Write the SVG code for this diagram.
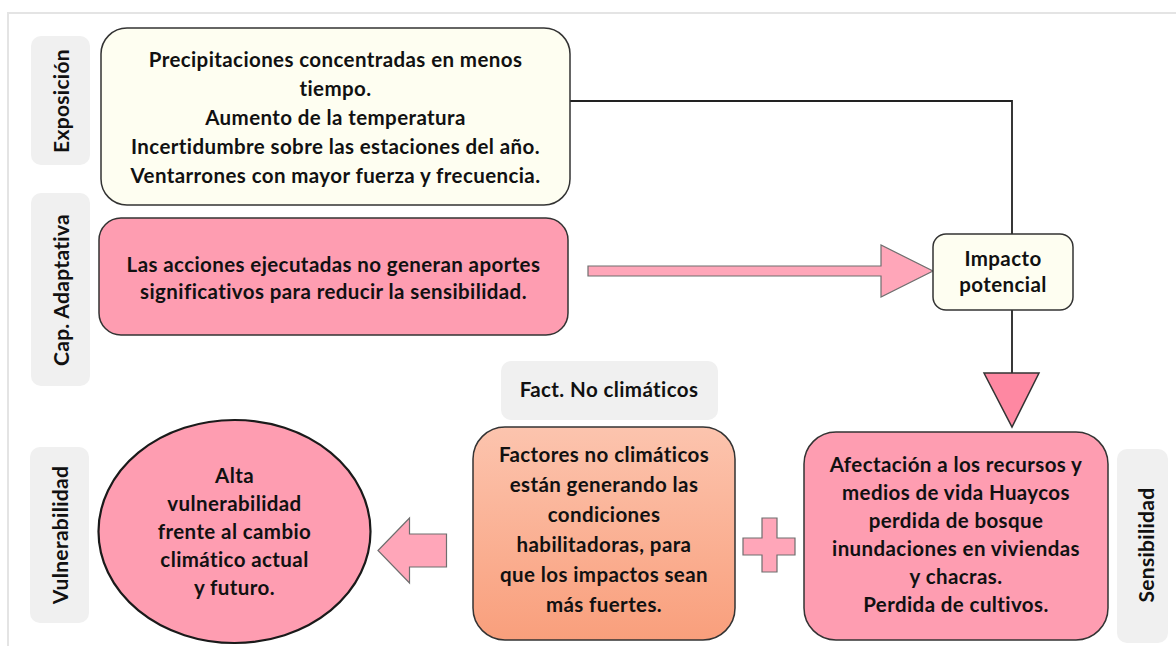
<svg xmlns="http://www.w3.org/2000/svg" width="1176" height="646" viewBox="0 0 1176 646">
<style>
  text { font-family: Lato, "Open Sans", "Liberation Sans", sans-serif; font-weight: bold; fill: #111; }
  .t { font-size: 20.5px; letter-spacing: 0.4px; text-anchor: middle; }
  .tab { fill: #f0f0f0; }
  .tabt { font-size: 21px; letter-spacing: 0.3px; text-anchor: middle; dominant-baseline: central; }
  .tabh { font-size: 20.5px; letter-spacing: 0.4px; text-anchor: middle; }
  .box { stroke: #333; stroke-width: 1.5; }
  .ivory { fill: #fefef1; }
  .pink { fill: #fe9db1; }
  .arrow { fill: #ffa6b9; stroke: #6e6e6e; stroke-width: 1.2; }
  .conn { fill: none; stroke: #222; stroke-width: 1.8; }
</style>
<defs>
  <linearGradient id="peach" x1="0" y1="0" x2="0" y2="1">
    <stop offset="0" stop-color="#fcc4ae"/>
    <stop offset="1" stop-color="#f99f7c"/>
  </linearGradient>
</defs>
<rect x="0" y="0" width="1176" height="646" fill="#ffffff"/>
<rect x="8" y="13" width="1200" height="700" fill="none" stroke="#e4e4e4" stroke-width="2"/>

<g id="tab-exposicion">
  <rect class="tab" x="31" y="36" width="59" height="129" rx="10"/>
  <text class="tabt" transform="translate(60,101) rotate(-90)">Exposición</text>
</g>
<g id="tab-cap">
  <rect class="tab" x="31" y="193" width="59" height="193" rx="10"/>
  <text class="tabt" transform="translate(60,290) rotate(-90)">Cap. Adaptativa</text>
</g>
<g id="tab-vulnerabilidad">
  <rect class="tab" x="30" y="447" width="59" height="176" rx="10"/>
  <text class="tabt" transform="translate(59,535) rotate(-90)">Vulnerabilidad</text>
</g>
<g id="tab-sensibilidad">
  <rect class="tab" x="1117" y="449" width="51" height="194" rx="10"/>
  <text class="tabt" transform="translate(1145,545) rotate(-90)">Sensibilidad</text>
</g>
<g id="tab-fact">
  <rect class="tab" x="501" y="361" width="217" height="59" rx="10"/>
  <text class="tabh" x="609" y="397">Fact. No climáticos</text>
</g>

<g id="connectors">
  <polyline class="conn" points="569,101 1012,101 1012,234"/>
  <line class="conn" x1="1012" y1="310" x2="1012" y2="373"/>
  <polygon points="984,373 1039,373 1012,427" fill="#fe88a2" stroke="#333" stroke-width="1.5"/>
  <polygon class="arrow" points="588,266 881,266 881,245 933,271 881,297 881,276 588,276"/>
  <polygon class="arrow" points="378,550.5 409.5,518 409.5,534 446.5,534 446.5,567 409.5,567 409.5,583"/>
  <polygon class="arrow" points="762,518 777,518 777,538 795,538 795,555 777,555 777,572 762,572 762,555 743,555 743,538 762,538"/>
</g>

<g id="node-exposicion">
  <rect class="box ivory" x="101" y="28" width="469" height="177" rx="26"/>
  <text class="t" x="335.5" y="67">Precipitaciones concentradas en menos</text>
  <text class="t" x="335.5" y="96">tiempo.</text>
  <text class="t" x="335.5" y="125">Aumento de la temperatura</text>
  <text class="t" x="335.5" y="154">Incertidumbre sobre las estaciones del año.</text>
  <text class="t" x="335.5" y="183">Ventarrones con mayor fuerza y frecuencia.</text>
</g>

<g id="node-cap">
  <rect class="box pink" x="99" y="218" width="469" height="117" rx="22"/>
  <text class="t" x="333.5" y="272">Las acciones ejecutadas no generan aportes</text>
  <text class="t" x="333.5" y="299">significativos para reducir la sensibilidad.</text>
</g>

<g id="node-impacto">
  <rect class="box ivory" x="933" y="234" width="140" height="76" rx="13"/>
  <text class="t" x="1003" y="266">Impacto</text>
  <text class="t" x="1003" y="292">potencial</text>
</g>

<g id="node-afectacion">
  <rect class="box pink" x="804" y="432" width="304" height="208" rx="32"/>
  <text class="t" x="956" y="472">Afectación a los recursos y</text>
  <text class="t" x="956" y="500">medios de vida Huaycos</text>
  <text class="t" x="956" y="528">perdida de bosque</text>
  <text class="t" x="956" y="556">inundaciones en viviendas</text>
  <text class="t" x="956" y="584">y chacras.</text>
  <text class="t" x="956" y="612">Perdida de cultivos.</text>
</g>

<g id="node-factores">
  <rect class="box" fill="url(#peach)" x="473" y="427" width="262" height="213" rx="32"/>
  <text class="t" x="604" y="462">Factores no climáticos</text>
  <text class="t" x="604" y="492">están generando las</text>
  <text class="t" x="604" y="522">condiciones</text>
  <text class="t" x="604" y="552">habilitadoras, para</text>
  <text class="t" x="604" y="582">que los impactos sean</text>
  <text class="t" x="604" y="612">más fuertes.</text>
</g>

<g id="node-vulnerabilidad">
  <ellipse class="pink" cx="234.5" cy="531.5" rx="136" ry="111.5" stroke="#1a1a1a" stroke-width="2.2"/>
  <text class="t" x="234.5" y="483">Alta</text>
  <text class="t" x="234.5" y="511">vulnerabilidad</text>
  <text class="t" x="234.5" y="539">frente al cambio</text>
  <text class="t" x="234.5" y="567">climático actual</text>
  <text class="t" x="234.5" y="595">y futuro.</text>
</g>
</svg>
